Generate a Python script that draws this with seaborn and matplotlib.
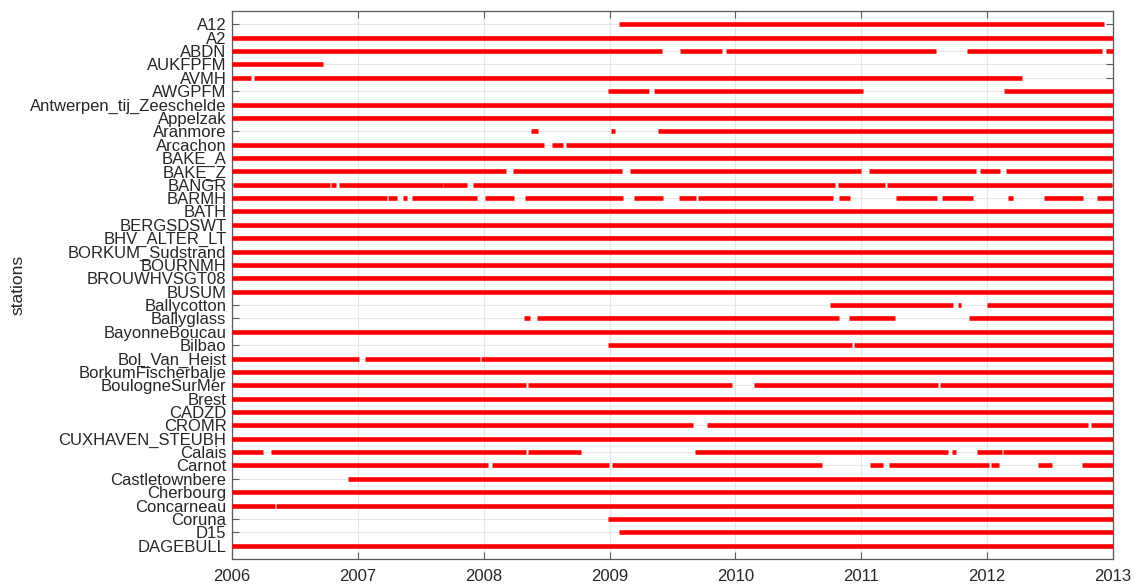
import matplotlib
matplotlib.use("Agg")
import matplotlib.pyplot as plt
import pandas as pd
import seaborn as sns

# Station names, top to bottom
stations = [
    "A12", "A2", "ABDN", "AUKFPFM", "AVMH", "AWGPFM",
    "Antwerpen_tij_Zeeschelde", "Appelzak", "Aranmore", "Arcachon",
    "BAKE_A", "BAKE_Z", "BANGR", "BARMH", "BATH", "BERGSDSWT",
    "BHV_ALTER_LT", "BORKUM_Sudstrand", "BOURNMH", "BROUWHVSGT08", "BUSUM",
    "Ballycotton", "Ballyglass", "BayonneBoucau", "Bilbao", "Bol_Van_Heist",
    "BorkumFischerbalje", "BoulogneSurMer", "Brest", "CADZD", "CROMR",
    "CUXHAVEN_STEUBH", "Calais", "Carnot", "Castletownbere", "Cherbourg",
    "Concarneau", "Coruna", "D15", "DAGEBULL",
]

FULL = [(2006.0, 2013.0)]

# Periods with available records (decimal years), one list per station
periods = [
    [(2009.075, 2012.93)],                                             # A12
    FULL,                                                              # A2
    [(2006.0, 2009.42), (2009.557, 2009.89), (2009.926, 2011.595),
     (2011.84, 2012.913), (2012.948, 2013.0)],                         # ABDN
    [(2006.0, 2006.72)],                                               # AUKFPFM
    [(2006.0, 2006.153), (2006.177, 2012.28)],                         # AVMH
    [(2008.99, 2009.31), (2009.35, 2011.01), (2012.13, 2013.0)],       # AWGPFM
    FULL,                                                              # Antwerpen_tij_Zeeschelde
    FULL,                                                              # Appelzak
    [(2008.374, 2008.43), (2009.01, 2009.046), (2009.383, 2013.0)],    # Aranmore
    [(2006.0, 2008.48), (2008.54, 2008.63), (2008.655, 2013.0)],       # Arcachon
    FULL,                                                              # BAKE_A
    [(2006.0, 2008.18), (2008.23, 2009.096), (2009.16, 2010.994),
     (2011.058, 2011.908), (2011.94, 2012.106), (2012.147, 2012.995)], # BAKE_Z
    [(2006.006, 2006.78), (2006.79, 2006.83), (2006.854, 2007.673),
     (2007.68, 2007.87), (2007.915, 2010.788), (2010.814, 2011.19),
     (2011.206, 2012.995)],                                            # BANGR
    [(2006.0, 2007.228), (2007.243, 2007.31), (2007.355, 2007.39),
     (2007.434, 2007.95), (2008.01, 2008.24), (2008.327, 2009.104),
     (2009.194, 2009.427), (2009.549, 2009.685), (2009.70, 2010.776),
     (2010.82, 2010.913), (2011.273, 2011.598), (2011.639, 2011.888),
     (2012.164, 2012.205), (2012.454, 2012.759), (2012.872, 2013.0)],  # BARMH
    FULL,                                                              # BATH
    FULL,                                                              # BERGSDSWT
    FULL,                                                              # BHV_ALTER_LT
    FULL,                                                              # BORKUM_Sudstrand
    FULL,                                                              # BOURNMH
    FULL,                                                              # BROUWHVSGT08
    FULL,                                                              # BUSUM
    [(2010.75, 2011.732), (2011.766, 2011.795), (2011.998, 2013.0)],   # Ballycotton
    [(2008.318, 2008.368), (2008.427, 2010.823), (2010.90, 2011.267),
     (2011.859, 2013.0)],                                              # Ballyglass
    FULL,                                                              # BayonneBoucau
    [(2008.985, 2010.927), (2010.939, 2013.0)],                        # Bilbao
    [(2006.0, 2007.013), (2007.057, 2007.97), (2007.98, 2013.0)],      # Bol_Van_Heist
    FULL,                                                              # BorkumFischerbalje
    [(2006.0, 2008.333), (2008.348, 2009.975), (2010.147, 2011.607),
     (2011.624, 2013.0)],                                              # BoulogneSurMer
    FULL,                                                              # Brest
    FULL,                                                              # CADZD
    [(2006.0, 2009.662), (2009.775, 2012.803), (2012.829, 2013.0)],    # CROMR
    FULL,                                                              # CUXHAVEN_STEUBH
    [(2006.0, 2006.25), (2006.31, 2008.333), (2008.348, 2008.774),
     (2009.676, 2011.688), (2011.723, 2011.752), (2011.92, 2012.118),
     (2012.129, 2013.0)],                                              # Calais
    [(2006.0, 2008.038), (2008.068, 2008.997), (2009.02, 2010.69),
     (2011.07, 2011.174), (2011.223, 2012.013), (2012.03, 2012.097),
     (2012.402, 2012.515), (2012.753, 2013.0)],                        # Carnot
    [(2006.919, 2013.0)],                                              # Castletownbere
    FULL,                                                              # Cherbourg
    [(2006.0, 2006.345), (2006.353, 2013.0)],                          # Concarneau
    [(2008.985, 2013.0)],                                              # Coruna
    [(2009.073, 2013.0)],                                              # D15
    FULL,                                                              # DAGEBULL
]

years = list(range(2006, 2014))

# Long-form table: each coverage period becomes a two-point line unit
records = []
seg = 0
for row, spans in enumerate(periods, start=1):
    for start, end in spans:
        records.append({"seg": seg, "year": start, "row": row})
        records.append({"seg": seg, "year": end, "row": row})
        seg += 1
df = pd.DataFrame(records)

sns.set_theme(style="whitegrid")
plt.rcParams["font.family"] = ["Liberation Sans", "DejaVu Sans"]

W, H = 1132, 585
fig = plt.figure(figsize=(W / 100, H / 100), dpi=100)
ax = fig.add_axes([232 / W, 1 - 559 / H, (1113 - 232) / W, (559 - 11) / H])

sns.lineplot(
    data=df, x="year", y="row", units="seg", estimator=None, sort=False,
    color="#ff0000", linewidth=3.3, solid_capstyle="butt", ax=ax, zorder=3,
)

ax.set_xlim(2006, 2013)
ax.set_ylim(len(stations) + 1, 0)
ax.set_xticks(years)
ax.set_xticklabels([str(y) for y in years])
ax.set_yticks(range(1, len(stations) + 1))
ax.set_yticklabels(stations)
ax.set_xlabel("")
ax.set_ylabel("stations", fontsize=12.5, color="#262626")
ax.yaxis.set_label_coords(-0.234, 0.5)

ax.grid(True, color="#e6e6e6", linewidth=0.8)
ax.set_axisbelow(True)
for spine in ax.spines.values():
    spine.set_visible(True)
    spine.set_color("#5a5a5a")
    spine.set_linewidth(0.9)

ax.tick_params(axis="both", direction="in", length=5, width=0.8,
               color="#5a5a5a", labelsize=12, labelcolor="#262626",
               top=True, right=True, bottom=True, left=True)
ax.tick_params(axis="x", pad=7)
ax.tick_params(axis="y", pad=4)

fig.savefig("out.png", dpi=100)
